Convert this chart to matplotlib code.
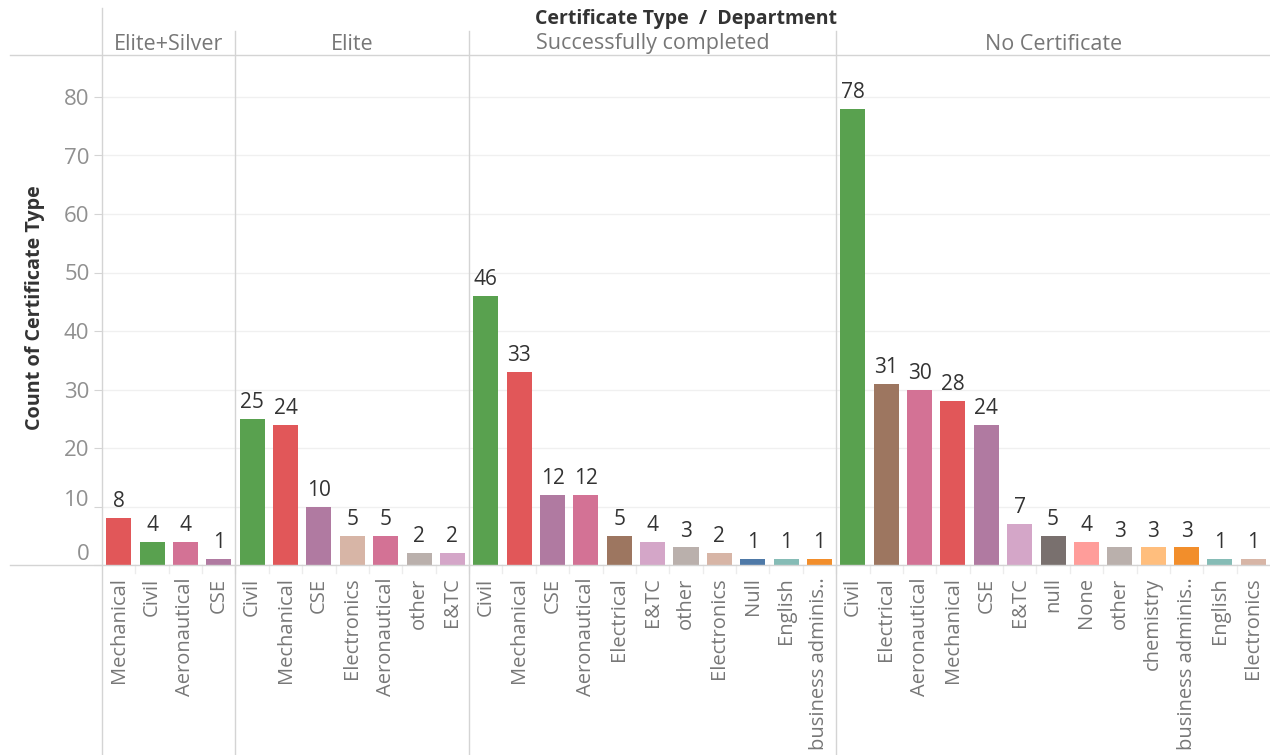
import matplotlib
matplotlib.use("Agg")
import matplotlib.pyplot as plt
import matplotlib.transforms as mtrans
from matplotlib.lines import Line2D

plt.rcParams['font.family'] = ['Open Sans', 'DejaVu Sans']

# data
groups = ['Elite+Silver', 'Elite', 'Successfully completed', 'No Certificate']
depts = [
    ['Mechanical', 'Civil', 'Aeronautical', 'CSE'],
    ['Civil', 'Mechanical', 'CSE', 'Electronics', 'Aeronautical', 'other', 'E&TC'],
    ['Civil', 'Mechanical', 'CSE', 'Aeronautical', 'Electrical', 'E&TC', 'other',
     'Electronics', 'Null', 'English', 'business adminis..'],
    ['Civil', 'Electrical', 'Aeronautical', 'Mechanical', 'CSE', 'E&TC', 'null',
     'None', 'other', 'chemistry', 'business adminis..', 'English', 'Electronics'],
]
counts = [
    [8, 4, 4, 1],
    [25, 24, 10, 5, 5, 2, 2],
    [46, 33, 12, 12, 5, 4, 3, 2, 1, 1, 1],
    [78, 31, 30, 28, 24, 7, 5, 4, 3, 3, 3, 1, 1],
]
dept_colors = {
    'Mechanical': '#E15759', 'Civil': '#59A14F', 'Aeronautical': '#D37295',
    'CSE': '#B07AA1', 'Electronics': '#D7B5A6', 'other': '#BAB0AC',
    'E&TC': '#D4A6C8', 'Electrical': '#9D7660', 'Null': '#4E79A7',
    'English': '#86BCB6', 'business adminis..': '#F28E2B', 'null': '#79706E',
    'None': '#FF9D9A', 'chemistry': '#FFBE7D',
}

W, H = 1270, 755
fig = plt.figure(figsize=(W / 100, H / 100), dpi=100)


def fx(x):
    return x / W


def fy(y):
    return 1 - y / H


# plot area in pixels
left, right, top, base = 102, 1270, 55, 565
ax = fig.add_axes([fx(left), fy(base), fx(right - left), (base - top) / H])

labels, values, colors = [], [], []
for d, c in zip(depts, counts):
    labels += d
    values += c
    colors += [dept_colors[k] for k in d]
pos = list(range(len(values)))

ax.bar(pos, values, width=0.75, color=colors, zorder=3)
for p, v in zip(pos, values):
    ax.text(p, v + 1.0, str(v), ha='center', va='bottom', fontsize=15, color='#333333')

ax.set_xlim(-0.5, len(values) - 0.5)
ax.set_ylim(0, (base - top) / 5.85)
ax.set_yticks(range(0, 81, 10))
ax.grid(axis='y', color='#f0f0f0', linewidth=1, zorder=0)
ax.tick_params(axis='y', length=6, color='#d4d4d4', labelsize=16, labelcolor='#909090', pad=3)
ax.set_xticks(pos)
ax.set_xticklabels(labels, rotation=90, fontsize=14.5, color='#777777')
ax.tick_params(axis='x', length=0, pad=9)
for s in ax.spines.values():
    s.set_visible(False)

# shift the two lowest y labels up like the original
ylabs = ax.get_yticklabels()
ylabs[0].set_transform(ylabs[0].get_transform() + mtrans.ScaledTranslation(0, 13 / 100, fig.dpi_scale_trans))
ylabs[1].set_transform(ylabs[1].get_transform() + mtrans.ScaledTranslation(0, 9 / 100, fig.dpi_scale_trans))

# faint ticks between categories
for b in range(len(values) - 1):
    ax.plot([b + 0.5, b + 0.5], [0, -1.3], color='#ececec', lw=1, clip_on=False)

# frame lines
line_c = '#d4d4d4'
fig.add_artist(Line2D([fx(10), fx(W)], [fy(base), fy(base)], color=line_c, lw=1))
fig.add_artist(Line2D([fx(10), fx(W)], [fy(top), fy(top)], color=line_c, lw=1))
fig.add_artist(Line2D([fx(left), fx(left)], [fy(8), 0], color=line_c, lw=1))

slot = (right - left) / len(values)
start = 0
for gi, (g, d) in enumerate(zip(groups, depts)):
    x0 = left + start * slot
    x1 = left + (start + len(d)) * slot
    fig.text(fx((x0 + x1) / 2), fy(44), g, ha='center', va='center', fontsize=15.5, color='#777777')
    if gi > 0:
        fig.add_artist(Line2D([fx(x0), fx(x0)], [fy(31), 0], color=line_c, lw=1))
    start += len(d)

fig.text(fx(686), fy(19), 'Certificate Type  /  Department', ha='center', va='center',
         fontsize=14, fontweight='bold', color='#333333')
fig.text(fx(35), fy(308), 'Count of Certificate Type', ha='center', va='center', rotation=90,
         fontsize=14.2, fontweight='bold', color='#333333')

fig.savefig('out.png', dpi=100)
